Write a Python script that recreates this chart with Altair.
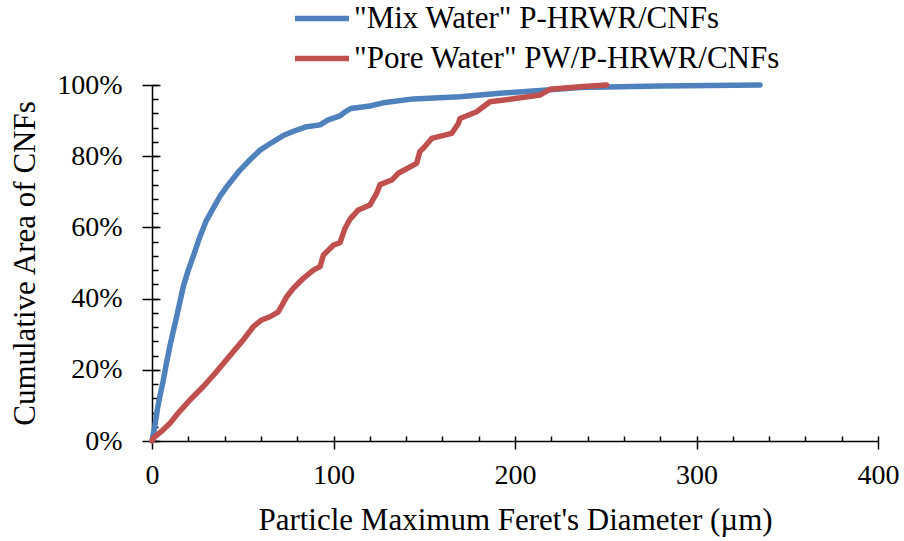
import altair as alt
import pandas as pd

# Series: "Mix Water" P-HRWR/CNFs
mix_x = [0, 1.5, 3, 4.5, 6.2, 8, 10, 13.6, 17.3, 20, 22.8, 26.4, 30, 37.5, 42, 48.5,
         54, 59.5, 65, 72.3, 78, 85.2, 92.6, 97.1, 103.6, 106, 109.5, 120, 127.4, 144,
         169.7, 191.7, 217.5, 236, 280, 335]
mix_y = [0, 4, 9, 13, 17, 22, 27, 35, 43.5, 48, 52, 57.4, 62, 68.8, 72, 76.1,
         79, 81.7, 83.5, 85.8, 87, 88.3, 88.8, 90.2, 91.3, 92.3, 93.4, 94.1, 95, 96.1,
         96.7, 97.7, 98.6, 99.3, 99.7, 100]

# Series: "Pore Water" PW/P-HRWR/CNFs
pore_x = [0, 0.7, 5, 9.9, 15, 20.9, 28.3, 35.6, 39.3, 44.8, 50.3, 55.8, 60.4, 65, 69.6,
          74.2, 77.9, 83.4, 88.9, 92.6, 94.4, 99.9, 103.6, 106.3, 109.1, 113.7, 120.1,
          123.8, 125.6, 132.1, 135.7, 145.8, 147.6, 150, 154.1, 165.1, 168.8, 169.7,
          178.9, 186.2, 200, 213.8, 219.3, 235.8, 250.5]
pore_y = [0, 0.8, 2.6, 5.0, 8.2, 11.5, 15.3, 19.5, 21.8, 25.1, 28.4, 32.1, 34.0, 34.9, 36.3,
          40.5, 42.9, 45.7, 48, 49, 52.2, 55.0, 55.7, 59.7, 62.3, 64.9, 66.3,
          69.6, 72.0, 73.3, 75.2, 78, 81.3, 82.5, 85, 86.4, 89.2, 90.6,
          92.5, 95.3, 96.2, 97.2, 98.8, 99.5, 100]

series_names = ['"Mix Water" P-HRWR/CNFs', '"Pore Water" PW/P-HRWR/CNFs']
series_colors = ["#4F81BD", "#C0504D"]

x_major = [0, 100, 200, 300, 400]
x_minor = list(range(0, 401, 20))
y_major = [0, 20, 40, 60, 80, 100]
y_minor = list(range(0, 101, 4))

rows = []
for i, (xv, yv) in enumerate(zip(mix_x, mix_y)):
    rows.append({"series": series_names[0], "x": xv, "y": yv, "order": i})
for i, (xv, yv) in enumerate(zip(pore_x, pore_y)):
    rows.append({"series": series_names[1], "x": xv, "y": yv, "order": i})
df = pd.DataFrame(rows)

FONT = "Liberation Serif"
xscale = alt.Scale(domain=[0, 400], nice=False, zero=False)
yscale = alt.Scale(domain=[0, 100], nice=False, zero=False)

base = alt.Chart(df)

main = base.mark_line(strokeWidth=5.5, strokeJoin="round", strokeCap="round").encode(
    x=alt.X("x:Q", scale=xscale, axis=alt.Axis(
        orient="bottom",
        values=x_major, tickSize=8, tickWidth=1.5, tickColor="black",
        domainColor="black", domainWidth=1.5, grid=False,
        labelFont=FONT, labelFontSize=28, labelColor="black", labelPadding=12,
        labelFlush=False,
        title="Particle Maximum Feret's Diameter (µm)", titleFont=FONT,
        titleFontSize=31, titleFontWeight="normal", titleColor="black",
        titlePadding=16)),
    y=alt.Y("y:Q", scale=yscale, axis=alt.Axis(
        orient="left",
        values=y_major, labelExpr="datum.value + '%'", tickSize=10, tickWidth=1.5,
        tickColor="black", domainColor="black", domainWidth=1.5, grid=False,
        labelFont=FONT, labelFontSize=28, labelColor="black", labelPadding=20,
        labelFlush=False,
        title="Cumulative Area of CNFs", titleFont=FONT, titleFontSize=31,
        titleFontWeight="normal", titleColor="black", titleX=-127, titleY=178,
        titleBaseline="middle")),
    color=alt.Color("series:N",
                    scale=alt.Scale(domain=series_names, range=series_colors),
                    legend=alt.Legend(orient="none", legendX=153.5, legendY=-83,
                                      title=None, symbolType="M-2,0H2",
                                      symbolSize=729, symbolStrokeWidth=5.5,
                                      labelFont=FONT, labelFontSize=31,
                                      labelColor="black", labelOffset=15.5,
                                      labelLimit=0,
                                      rowPadding=8, padding=0)),
    order="order:Q",
)

inner_minor = base.mark_point(opacity=0).encode(
    x=alt.X("x:Q", scale=xscale, axis=alt.Axis(
        orient="bottom", values=x_minor, offset=-5, tickSize=5, tickWidth=1.5,
        tickColor="black", labels=False, domain=False, grid=False, title=None)),
    y=alt.Y("y:Q", scale=yscale, axis=alt.Axis(
        orient="left", values=y_minor, offset=-6, tickSize=6, tickWidth=1.5,
        tickColor="black", labels=False, domain=False, grid=False, title=None)),
)

inner_major = base.mark_point(opacity=0).encode(
    x=alt.X("x:Q", scale=xscale, axis=None),
    y=alt.Y("y:Q", scale=yscale, axis=alt.Axis(
        orient="left", values=y_major, offset=-8, tickSize=8, tickWidth=1.5,
        tickColor="black", labels=False, domain=False, grid=False, title=None)),
)

chart = alt.layer(main, inner_minor, inner_major).resolve_axis(
    x="independent", y="independent"
).properties(
    width=726, height=356,
    padding={"left": 152, "top": 85, "right": 26, "bottom": 100},
    autosize=alt.AutoSizeParams(type="none"),
).configure_view(stroke=None)

chart.save("out.html", embed_options={"renderer": "svg", "actions": False})
